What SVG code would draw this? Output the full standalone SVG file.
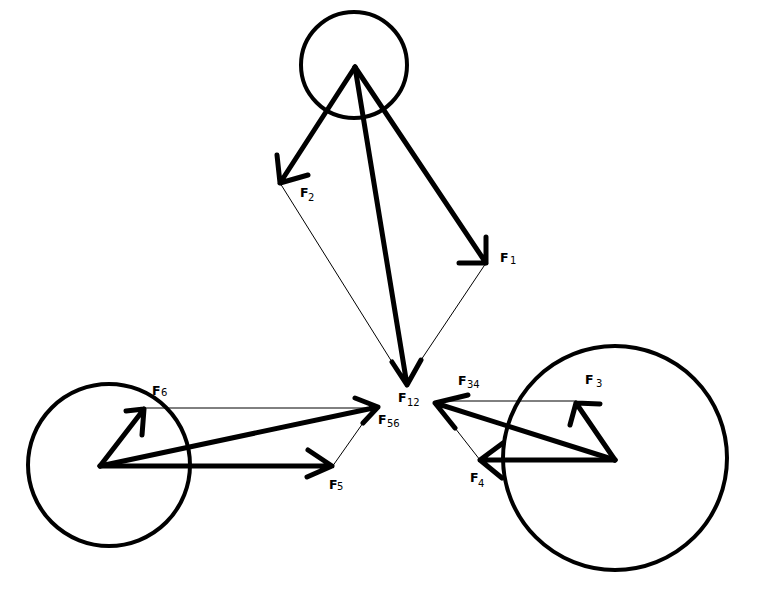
<svg xmlns="http://www.w3.org/2000/svg" width="768" height="614" viewBox="0 0 768 614">
<style>
.body{fill:none;stroke:#000;stroke-width:4}
.vec{fill:none;stroke:#000;stroke-width:5;stroke-linecap:round;stroke-linejoin:round}
.thin{fill:none;stroke:#000;stroke-width:1}
.lbl{font-family:"DejaVu Sans","Liberation Sans",sans-serif;font-size:12.5px;font-weight:bold;fill:#000}
.sub{font-family:"DejaVu Sans","Liberation Sans",sans-serif;font-size:10px;font-weight:normal;fill:#000}
</style>
<rect width="768" height="614" fill="#fff"/>
<g id="body-top"><circle class="body" cx="354" cy="65" r="53"/></g>
<g id="body-right"><circle class="body" cx="615" cy="458" r="112"/></g>
<g id="body-left"><circle class="body" cx="109" cy="465" r="81"/></g>
<g id="connectors">
<path class="thin" d="M280,183 L392,362 M486,263 L421,360"/>
<path class="thin" d="M440,401 L576,401 M455,428 L480,460"/>
<path class="thin" d="M144,408 L375,408 M363,423 L332,467"/>
<path class="vec" d="M355,67 L486,263 M486,237 L486,263 L459,263"/>
<path class="vec" d="M355,67 L280,183 M277,155 L280,183 L308,175"/>
<path class="vec" d="M355,67 L407,385 M392,362 L407,385 L421,360"/>
<path class="vec" d="M615,460 L576,403 M600,404 L576,403 L570,425"/>
<path class="vec" d="M615,460 L480,460 M503,443 L480,460 L502,478"/>
<path class="vec" d="M615,460 L435,403 M468,395 L435,403 L455,428"/>
<path class="vec" d="M100,466 L332,466 M308,450 L332,466 L307,477"/>
<path class="vec" d="M100,466 L144,409 M126,411 L144,409 L142,435"/>
<path class="vec" d="M100,466 L378,407 M355,398 L378,407 L363,423"/>
</g>
<g id="labels">
<text class="lbl" x="300" y="197">F<tspan class="sub" x="308" y="201">2</tspan></text>
<text class="lbl" x="500" y="262">F<tspan class="sub" x="510" y="264">1</tspan></text>
<text class="lbl" x="398" y="402">F<tspan class="sub" x="407" y="406">12</tspan></text>
<text class="lbl" x="458" y="385">F<tspan class="sub" x="467" y="388">34</tspan></text>
<text class="lbl" x="585" y="384">F<tspan class="sub" x="596" y="387">3</tspan></text>
<text class="lbl" x="470" y="482">F<tspan class="sub" x="478" y="487">4</tspan></text>
<text class="lbl" x="329" y="489">F<tspan class="sub" x="337" y="490">5</tspan></text>
<text class="lbl" x="378" y="424">F<tspan class="sub" x="387" y="427">56</tspan></text>
<text class="lbl" x="152" y="395">F<tspan class="sub" x="161" y="396">6</tspan></text>
</g>
</svg>
